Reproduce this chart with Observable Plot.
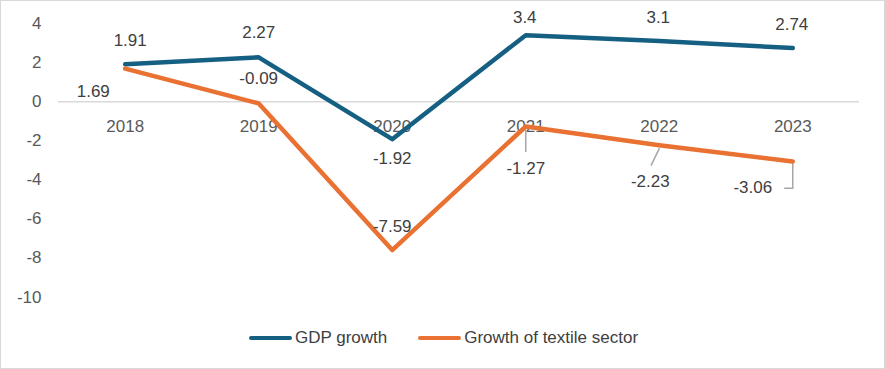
<!DOCTYPE html>
<html>
<head>
<meta charset="utf-8">
<script src="https://cdn.jsdelivr.net/npm/d3@7"></script>
<script src="https://cdn.jsdelivr.net/npm/@observablehq/plot@0.6"></script>
<style>
  html, body { margin: 0; padding: 0; background: #fff; }
  #frame { position: relative; width: 885px; height: 369px; box-sizing: border-box; border: 1px solid #d9d9d9; overflow: hidden; font-family: "Liberation Sans", Arial, sans-serif; }
  #chart { position: absolute; left: -1px; top: -1px; }
  #legend { position: absolute; left: 0; top: 327px; width: 885px; display: flex; justify-content: center; gap: 31px; font-size: 17px; color: #404040; }
  .item { display: flex; align-items: center; }
  .sw { display: inline-block; width: 43px; height: 4px; border-radius: 2px; margin-right: 3px; }
</style>
</head>
<body>
<div id="frame">
  <div id="chart"></div>
  <div id="legend"></div>
</div>
<script>
const years = [2018, 2019, 2020, 2021, 2022, 2023];
const gdpGrowth = [1.91, 2.27, -1.92, 3.4, 3.1, 2.74];
const textileGrowth = [1.69, -0.09, -7.59, -1.27, -2.23, -3.06];
const yTicks = [4, 2, 0, -2, -4, -6, -8, -10];
const seriesNames = ["GDP growth", "Growth of textile sector"];
const seriesColors = ["#156082", "#E97132"];

const gdp = years.map((y, i) => ({year: y, value: gdpGrowth[i]}));
const tex = years.map((y, i) => ({year: y, value: textileGrowth[i]}));

// label offsets (pixels)
const gdpOff = [[5, -24], [0, -25], [0, 19], [-1, -18], [-1, -24], [-1, -24]];
const texOff = [[-32, 23], [0, -25], [0, -24], [0, 42], [-9, 36], [-40, 26]];

// leader lines (data coordinates)
const leaders = [
  [{x: 2021, y: -1.47}, {x: 2021, y: -2.55}],
  [{x: 2022, y: -2.4}, {x: 2021.94, y: -3.25}],
  [{x: 2023, y: -3.15}, {x: 2023, y: -4.43}, {x: 2022.94, y: -4.43}]
].flatMap((pts, k) => pts.map(p => ({...p, k})));

const labelFont = {fontSize: 17, fill: "#404040", fontFamily: "Liberation Sans, Arial, sans-serif"};

const plot = Plot.plot({
  width: 885,
  height: 320,
  marginLeft: 58,
  marginRight: 25,
  marginTop: 23,
  marginBottom: 23,
  style: {fontFamily: "Liberation Sans, Arial, sans-serif", background: "transparent"},
  x: {type: "linear", domain: [2017.5, 2023.5], axis: null},
  y: {domain: [-10, 4], ticks: yTicks, tickSize: 0, tickPadding: 17, tickFormat: d => String(d), label: null},
  marks: [
    Plot.axisY({ticks: yTicks, tickSize: 0, tickPadding: 17, tickFormat: d => String(d), label: null, fontSize: 17, color: "#595959"}),
    Plot.ruleY([0], {stroke: "#d9d9d9", strokeWidth: 1.5}),
    Plot.text(years, {x: d => d, y: 0, text: d => String(d), dy: 25, fontSize: 17, fill: "#595959"}),
    Plot.line(leaders, {x: "x", y: "y", z: "k", stroke: "#a6a6a6", strokeWidth: 1.5}),
    Plot.line(gdp, {x: "year", y: "value", stroke: seriesColors[0], strokeWidth: 4.5, strokeLinejoin: "round", strokeLinecap: "round"}),
    Plot.line(tex, {x: "year", y: "value", stroke: seriesColors[1], strokeWidth: 4.5, strokeLinejoin: "round", strokeLinecap: "round"}),
    ...gdp.map((d, i) => Plot.text([d], {x: "year", y: "value", text: d => String(d.value), dx: gdpOff[i][0], dy: gdpOff[i][1], ...labelFont})),
    ...tex.map((d, i) => Plot.text([d], {x: "year", y: "value", text: d => String(d.value), dx: texOff[i][0], dy: texOff[i][1], ...labelFont}))
  ]
});
document.getElementById("chart").appendChild(plot);

const legend = document.getElementById("legend");
seriesNames.forEach((n, i) => {
  const it = document.createElement("div");
  it.className = "item";
  const sw = document.createElement("span");
  sw.className = "sw";
  sw.style.background = seriesColors[i];
  it.appendChild(sw);
  it.appendChild(document.createTextNode(n));
  legend.appendChild(it);
});
</script>
</body>
</html>
